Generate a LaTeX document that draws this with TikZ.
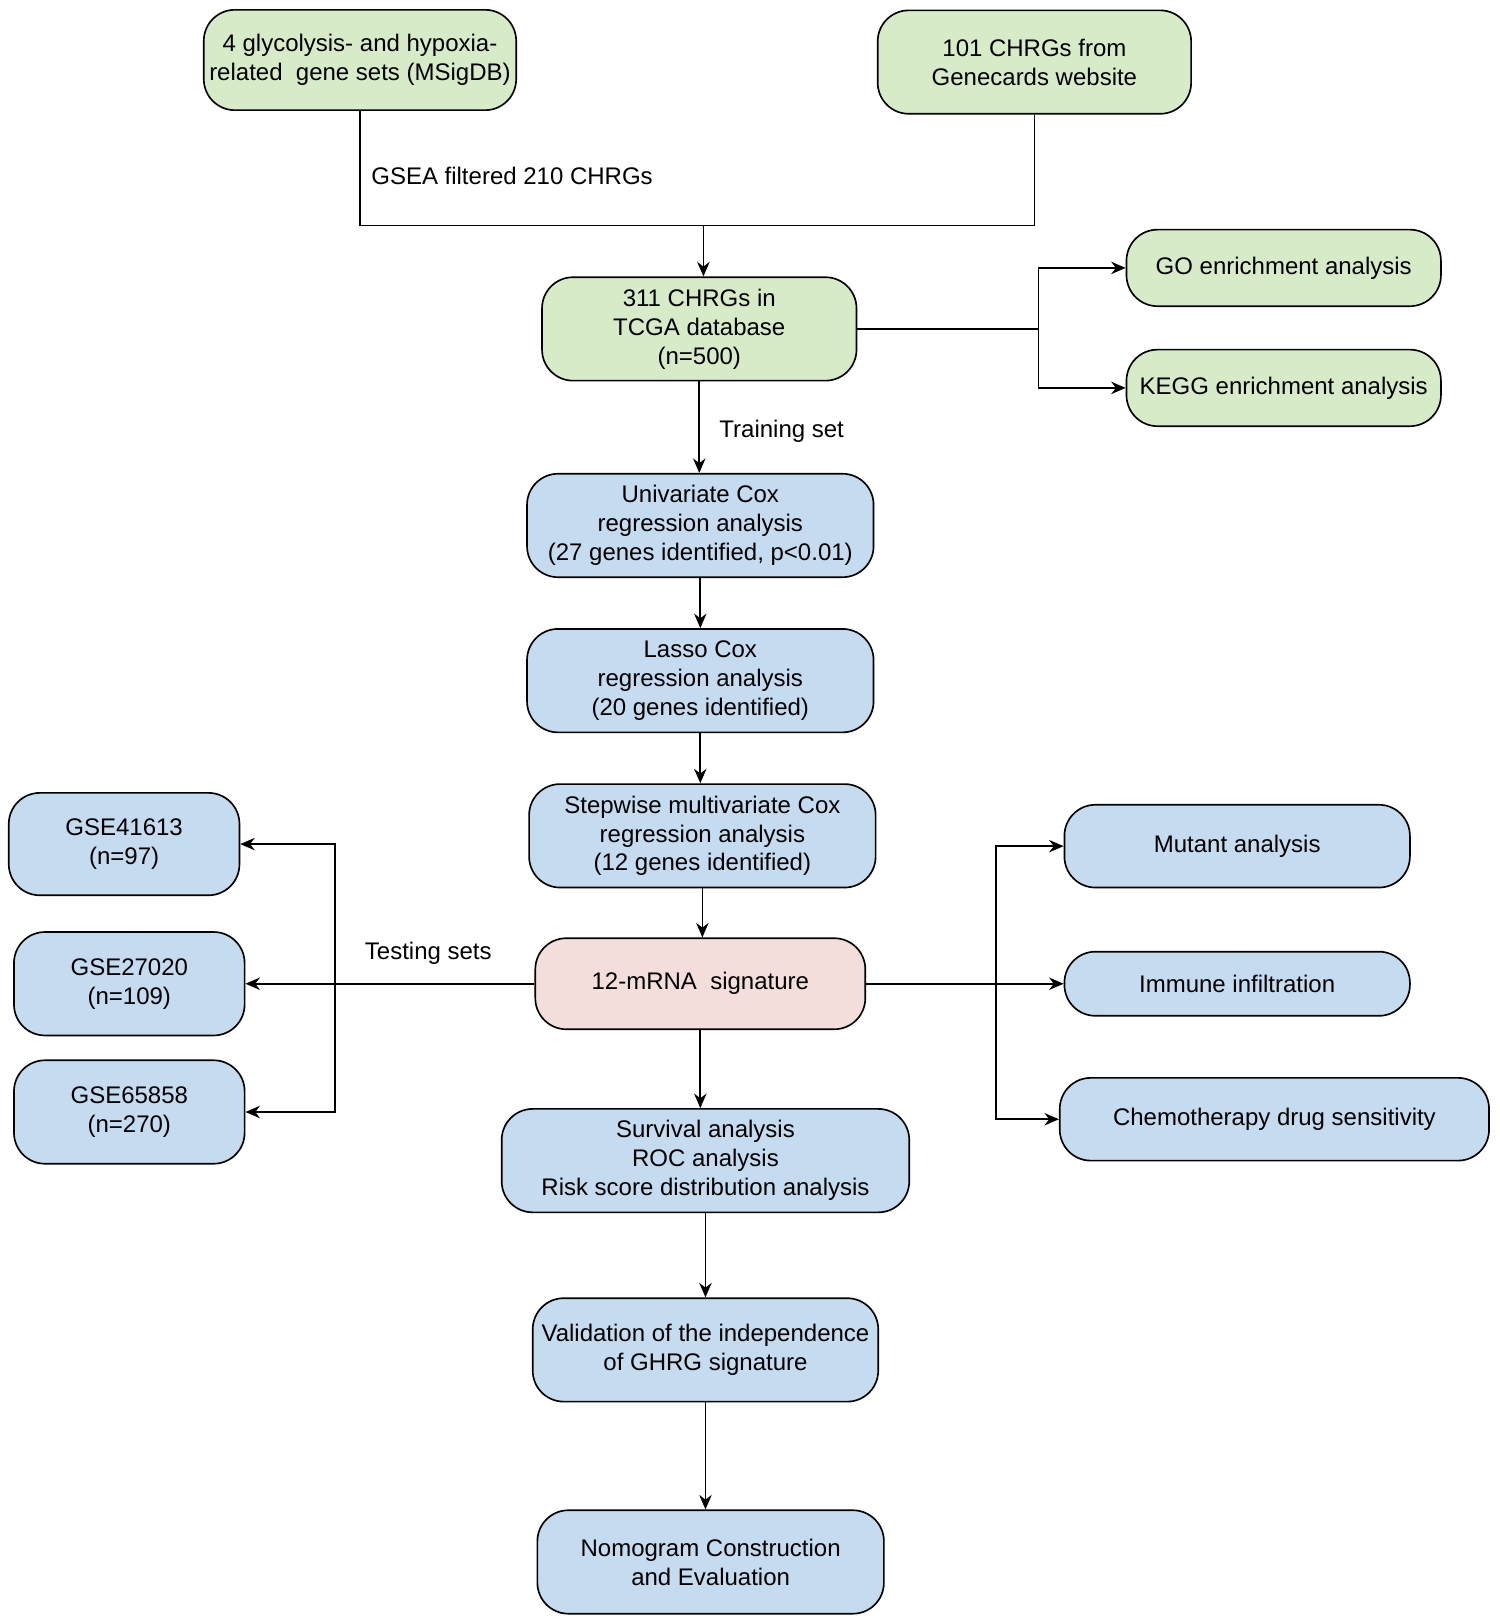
\documentclass[tikz,border=0pt]{standalone}
\usepackage{fontspec}
\setmainfont{Liberation Sans}
\usetikzlibrary{arrows.meta}
\begin{document}
\begin{tikzpicture}[x=0.5pt,y=-0.5pt,
  box/.style={draw=black,line width=0.8pt,rounded corners=15pt,align=center,inner sep=2pt,font=\fontsize{11.6}{14}\selectfont},
  gr/.style={box,fill={rgb,255:red,216;green,235;blue,201}},
  bl/.style={box,fill={rgb,255:red,197;green,219;blue,239}},
  pk/.style={box,fill={rgb,255:red,244;green,222;blue,220}},
  ar/.style={-{Stealth[length=7pt,width=6pt]},line width=0.8pt},
  ln/.style={line width=0.8pt},
  lb/.style={font=\fontsize{11.6}{14}\selectfont}]
\useasboundingbox (0,0) rectangle (1450,1569);
\node[gr,minimum width=151pt,minimum height=48.5pt] (A) at (348,58) {4 glycolysis- and hypoxia-\\related\ \ gene sets (MSigDB)};
\node[gr,minimum width=151.5pt,minimum height=50pt] (B) at (1000,60) {101 CHRGs from\\Genecards website};
\node[gr,minimum width=152pt,minimum height=50pt] (C) at (676,318) {311 CHRGs in\\TCGA database\\(n=500)};
\node[gr,minimum width=152pt,minimum height=37pt] (GO) at (1241,259) {GO enrichment analysis};
\node[gr,minimum width=152pt,minimum height=37pt] (KE) at (1241,375) {KEGG enrichment analysis};
\node[bl,minimum width=167.5pt,minimum height=50pt] (U) at (677,508) {Univariate Cox\\regression analysis\\(27 genes identified, p<0.01)};
\node[bl,minimum width=167.5pt,minimum height=50pt] (L) at (677,658) {Lasso Cox\\regression analysis\\(20 genes identified)};
\node[bl,minimum width=167.5pt,minimum height=50pt] (S) at (679,808) {Stepwise multivariate Cox\\regression analysis\\(12 genes identified)};
\node[pk,minimum width=159.5pt,minimum height=44pt] (G) at (677,951) {12-mRNA\ \ signature};
\node[bl,minimum width=111.5pt,minimum height=49.5pt] (G1) at (120,816) {GSE41613\\(n=97)};
\node[bl,minimum width=111.5pt,minimum height=50pt] (G2) at (125,951) {GSE27020\\(n=109)};
\node[bl,minimum width=111.5pt,minimum height=50pt] (G3) at (125,1075) {GSE65858\\(n=270)};
\node[bl,minimum width=167pt,minimum height=40pt] (M) at (1196,818) {Mutant analysis};
\node[bl,minimum width=167pt,minimum height=31pt] (I) at (1196,951) {Immune infiltration};
\node[bl,minimum width=207.5pt,minimum height=40pt] (CH) at (1232,1082) {Chemotherapy drug sensitivity};
\node[bl,minimum width=197pt,minimum height=50pt] (SU) at (682,1122) {Survival analysis\\ROC analysis\\Risk score distribution analysis};
\node[bl,minimum width=167pt,minimum height=50pt] (V) at (682,1305) {Validation of the independence\\of GHRG signature};
\node[bl,minimum width=167.5pt,minimum height=50pt] (N) at (687,1510) {Nomogram Construction\\and Evaluation};
\coordinate (j1) at (680,218);
\draw[ln] (A.south) -- (348,218) -- (1000,218) -- (B.south);
\draw[ar] (j1) -- (j1 |- C.north);
\node[lb] at (495,170) {GSEA filtered 210 CHRGs};
\draw[ln] (C.east) -- (1004,318);
\draw[ar] (1004,318) |- (GO.west);
\draw[ar] (1004,318) |- (KE.west);
\draw[ar] (C) -- (C |- U.north) node[lb,midway,right=6pt,yshift=-2pt] {Training set};
\draw[ar] (U) -- (U |- L.north);
\draw[ar] (L) -- (L |- S.north);
\draw[ar] (S) -- (S |- G.north);
\draw[ar] (G.west) -- (G2.east);
\node[lb] at (414,922) {Testing sets};
\draw[ar] (324,951) |- (G1.east);
\draw[ar] (324,951) |- (G3.east);
\draw[ar] (G.east) -- (I.west);
\draw[ar] (963,951) |- (M.west);
\draw[ar] (963,951) |- (CH.west);
\draw[ar] (G) -- (G |- SU.north);
\draw[ar] (SU) -- (SU |- V.north);
\draw[ar] (V) -- (V |- N.north);
\end{tikzpicture}
\end{document}
